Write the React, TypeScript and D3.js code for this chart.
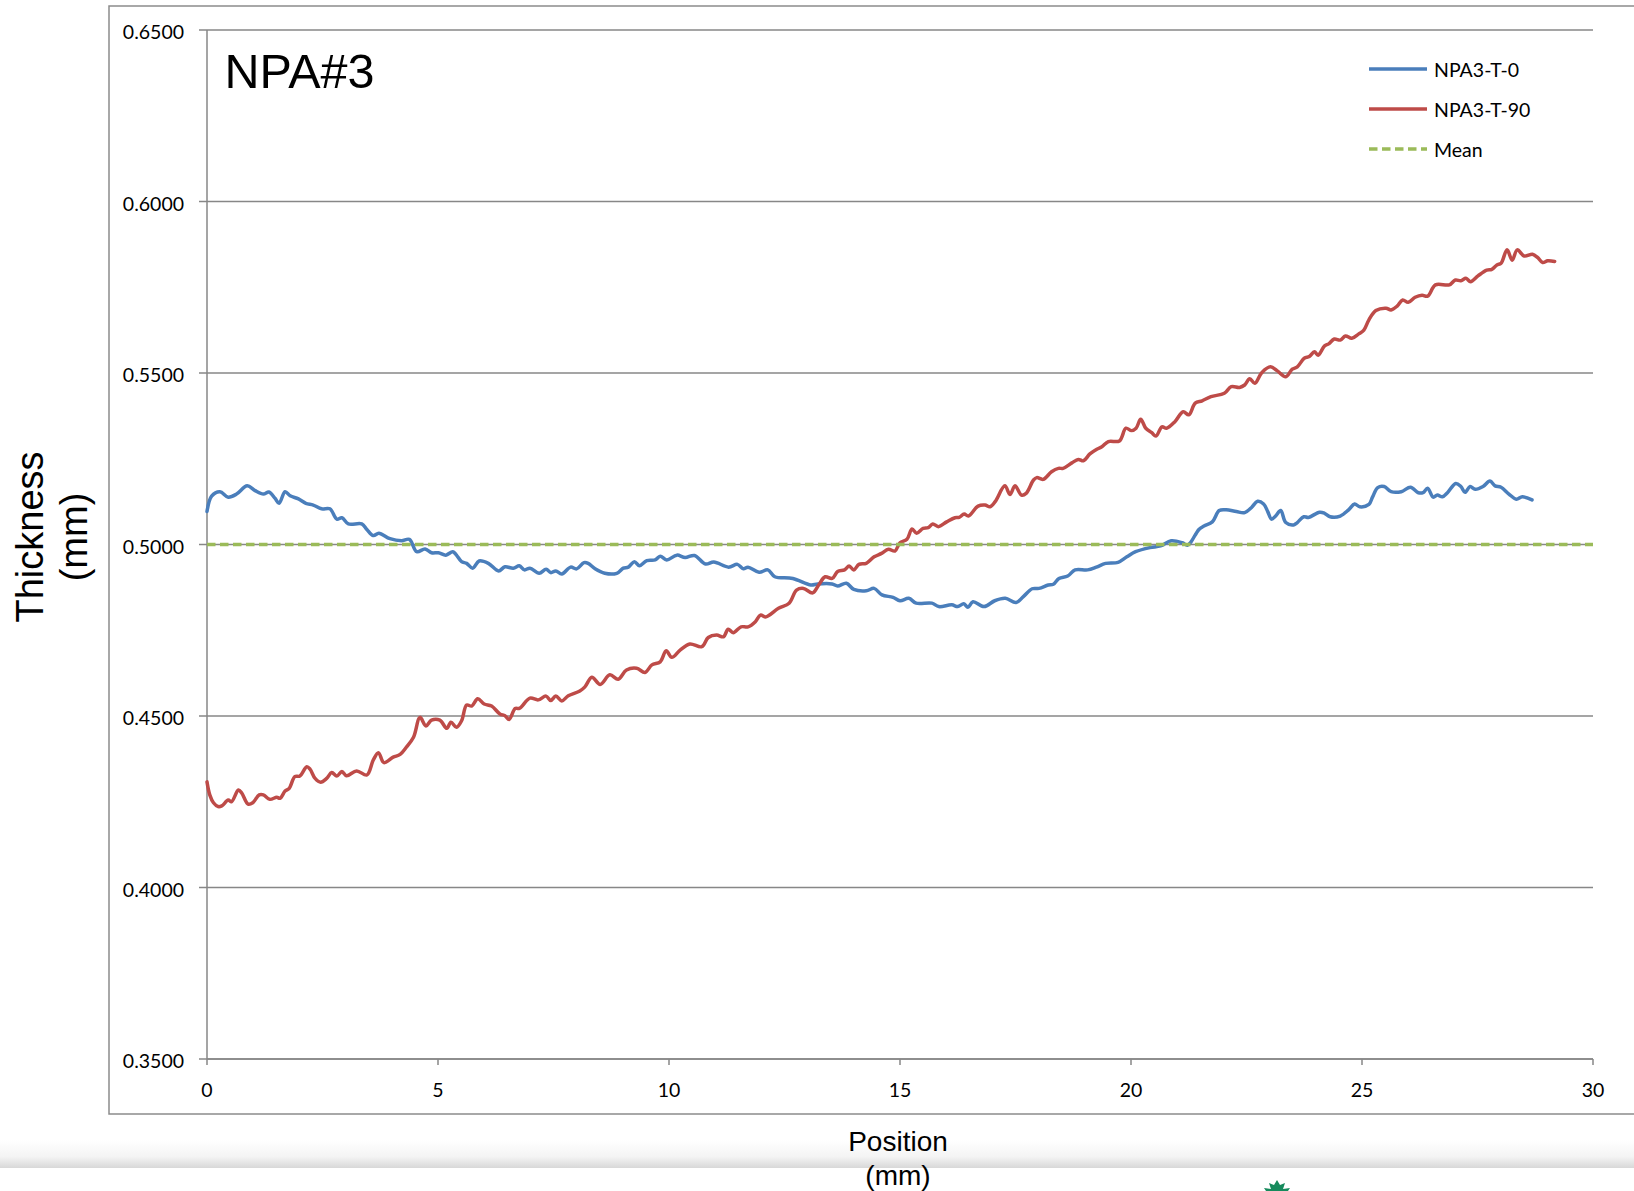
import React from "react";
import * as d3 from "d3";

// Thickness profiles: [position (mm), thickness (mm)]
const t0Profile: [number, number][] = [
  [0.0, 0.5096], [0.1, 0.5141], [0.28, 0.5154], [0.46, 0.5138], [0.64, 0.5147], [0.87, 0.5171], [1.04, 0.5157],
  [1.22, 0.5147], [1.34, 0.5153], [1.47, 0.5135], [1.56, 0.512], [1.69, 0.5154], [1.8, 0.5142], [1.98, 0.5133],
  [2.14, 0.512], [2.3, 0.5115], [2.48, 0.5104], [2.66, 0.5104], [2.81, 0.5074], [2.92, 0.5078], [3.06, 0.506],
  [3.35, 0.506], [3.46, 0.5044], [3.6, 0.5026], [3.72, 0.5033], [3.96, 0.5017], [4.21, 0.5011], [4.38, 0.5015],
  [4.54, 0.4979], [4.72, 0.4987], [4.86, 0.4976], [5.01, 0.4976], [5.17, 0.4969], [5.32, 0.4979], [5.4, 0.4969],
  [5.51, 0.495], [5.62, 0.4945], [5.75, 0.4931], [5.89, 0.4952], [6.09, 0.4945], [6.31, 0.4923], [6.45, 0.4935],
  [6.63, 0.4931], [6.76, 0.4938], [6.87, 0.4926], [6.99, 0.4931], [7.19, 0.4916], [7.34, 0.4928], [7.44, 0.4918],
  [7.55, 0.4923], [7.68, 0.4914], [7.87, 0.4934], [8.0, 0.4929], [8.16, 0.4947], [8.25, 0.4945], [8.4, 0.4929],
  [8.61, 0.4916], [8.87, 0.4916], [9.01, 0.4931], [9.12, 0.4934], [9.25, 0.495], [9.36, 0.4938], [9.52, 0.4953],
  [9.7, 0.4955], [9.81, 0.4966], [9.95, 0.4955], [10.17, 0.4969], [10.35, 0.4962], [10.55, 0.4968], [10.79, 0.4943],
  [10.97, 0.4949], [11.29, 0.4934], [11.48, 0.4942], [11.61, 0.4929], [11.71, 0.4934], [11.95, 0.4919], [12.14, 0.4926],
  [12.29, 0.4906], [12.68, 0.4901], [13.07, 0.4882], [13.22, 0.4885], [13.53, 0.4885], [13.65, 0.4879], [13.84, 0.4887],
  [14.0, 0.4869], [14.27, 0.4865], [14.44, 0.4872], [14.61, 0.4853], [14.85, 0.4846], [15.0, 0.4836], [15.19, 0.4843],
  [15.35, 0.4829], [15.69, 0.4829], [15.84, 0.4819], [16.12, 0.4824], [16.25, 0.4819], [16.38, 0.4827], [16.47, 0.4817],
  [16.58, 0.4833], [16.82, 0.4819], [17.05, 0.4836], [17.28, 0.4843], [17.51, 0.4831], [17.67, 0.4848], [17.86, 0.4871],
  [18.01, 0.4872], [18.21, 0.4882], [18.32, 0.4884], [18.44, 0.4901], [18.63, 0.4908], [18.79, 0.4926], [19.06, 0.4926],
  [19.25, 0.4934], [19.45, 0.4945], [19.72, 0.4948], [19.91, 0.4964], [20.1, 0.4979], [20.41, 0.4991], [20.64, 0.4996],
  [20.87, 0.5011], [21.11, 0.5005], [21.22, 0.4998], [21.3, 0.5008], [21.47, 0.5044], [21.58, 0.5054], [21.76, 0.5066],
  [21.91, 0.5099], [22.06, 0.5101], [22.28, 0.5096], [22.46, 0.5093], [22.61, 0.5108], [22.74, 0.5126], [22.87, 0.5118],
  [22.96, 0.5096], [23.04, 0.5074], [23.13, 0.5083], [23.24, 0.5099], [23.35, 0.5064], [23.52, 0.5057], [23.6, 0.5064],
  [23.74, 0.5081], [23.84, 0.5079], [24.08, 0.5094], [24.19, 0.5091], [24.31, 0.5081], [24.53, 0.5083], [24.71, 0.5101],
  [24.84, 0.5118], [24.95, 0.511], [25.15, 0.5117], [25.23, 0.5139], [25.34, 0.5166], [25.48, 0.5169], [25.63, 0.5154],
  [25.85, 0.5154], [26.05, 0.5167], [26.22, 0.5151], [26.32, 0.5151], [26.42, 0.5164], [26.54, 0.5138], [26.63, 0.5144],
  [26.74, 0.5139], [26.85, 0.5151], [27.03, 0.5178], [27.14, 0.5169], [27.23, 0.5152], [27.34, 0.5169], [27.45, 0.5161],
  [27.62, 0.5169], [27.77, 0.5185], [27.88, 0.5171], [28.01, 0.5167], [28.18, 0.5147], [28.34, 0.5132], [28.47, 0.5139],
  [28.68, 0.513],
];

const t90Profile: [number, number][] = [
  [0.0, 0.4308], [0.06, 0.427], [0.14, 0.4247], [0.24, 0.4236], [0.32, 0.4238], [0.46, 0.4255], [0.53, 0.425],
  [0.68, 0.4284], [0.75, 0.4276], [0.89, 0.4243], [0.99, 0.4247], [1.13, 0.427], [1.22, 0.427], [1.36, 0.4257],
  [1.51, 0.4263], [1.58, 0.426], [1.69, 0.4281], [1.78, 0.4289], [1.9, 0.4323], [2.01, 0.4325], [2.16, 0.4352],
  [2.23, 0.4345], [2.34, 0.4318], [2.46, 0.4307], [2.59, 0.4318], [2.7, 0.4335], [2.81, 0.4325], [2.92, 0.4338],
  [3.02, 0.4326], [3.24, 0.434], [3.46, 0.4328], [3.6, 0.4372], [3.71, 0.4393], [3.83, 0.4364], [4.03, 0.438],
  [4.18, 0.4388], [4.32, 0.441], [4.47, 0.4438], [4.61, 0.4496], [4.74, 0.4471], [4.86, 0.4488], [5.04, 0.4488],
  [5.19, 0.4464], [5.28, 0.4482], [5.4, 0.4467], [5.51, 0.4486], [5.62, 0.4532], [5.73, 0.4529], [5.86, 0.455],
  [6.0, 0.4535], [6.16, 0.4529], [6.34, 0.4506], [6.45, 0.4501], [6.54, 0.449], [6.67, 0.4522], [6.76, 0.4522],
  [6.99, 0.4552], [7.17, 0.4547], [7.34, 0.4558], [7.44, 0.4545], [7.55, 0.4558], [7.68, 0.4544], [7.82, 0.4559],
  [8.07, 0.4573], [8.18, 0.4585], [8.33, 0.4613], [8.51, 0.4592], [8.72, 0.462], [8.9, 0.4607], [9.08, 0.4634],
  [9.3, 0.4639], [9.48, 0.4627], [9.63, 0.4649], [9.81, 0.4658], [9.94, 0.469], [10.06, 0.4671], [10.24, 0.4692],
  [10.45, 0.471], [10.71, 0.4702], [10.85, 0.4729], [11.03, 0.4736], [11.18, 0.4731], [11.28, 0.4753], [11.39, 0.4743],
  [11.56, 0.476], [11.71, 0.476], [11.87, 0.4775], [11.98, 0.4794], [12.1, 0.4789], [12.37, 0.4814], [12.6, 0.4829],
  [12.76, 0.4867], [12.91, 0.4872], [13.11, 0.4859], [13.24, 0.4882], [13.38, 0.4906], [13.53, 0.4901], [13.65, 0.4921],
  [13.8, 0.4926], [13.9, 0.4937], [14.0, 0.4926], [14.11, 0.4942], [14.27, 0.4945], [14.44, 0.4964], [14.6, 0.4974],
  [14.75, 0.4986], [14.89, 0.4981], [15.0, 0.5005], [15.15, 0.5015], [15.26, 0.5045], [15.36, 0.5033], [15.5, 0.5047],
  [15.61, 0.5049], [15.71, 0.506], [15.83, 0.5052], [16.01, 0.5066], [16.19, 0.5078], [16.28, 0.5079], [16.39, 0.5089],
  [16.48, 0.5083], [16.69, 0.5112], [16.84, 0.5115], [16.95, 0.511], [17.06, 0.5125], [17.27, 0.5171], [17.38, 0.5146],
  [17.49, 0.5171], [17.63, 0.5144], [17.73, 0.5149], [17.89, 0.5188], [17.96, 0.5195], [18.1, 0.519], [18.28, 0.5212],
  [18.43, 0.5222], [18.53, 0.5222], [18.72, 0.5238], [18.86, 0.5248], [18.97, 0.5244], [19.11, 0.5264], [19.26, 0.5278],
  [19.37, 0.5285], [19.51, 0.53], [19.75, 0.5302], [19.89, 0.5339], [20.01, 0.5332], [20.11, 0.5339], [20.21, 0.5365],
  [20.32, 0.5339], [20.45, 0.5326], [20.54, 0.5316], [20.67, 0.5343], [20.77, 0.5339], [20.95, 0.5358], [21.13, 0.5387],
  [21.25, 0.5378], [21.39, 0.5412], [21.54, 0.5419], [21.73, 0.5431], [22.02, 0.5441], [22.17, 0.546], [22.35, 0.5458],
  [22.46, 0.5465], [22.57, 0.5483], [22.68, 0.547], [22.83, 0.5501], [23.02, 0.5518], [23.16, 0.5507], [23.35, 0.5489],
  [23.49, 0.5511], [23.6, 0.5518], [23.75, 0.5543], [23.86, 0.5548], [23.97, 0.5562], [24.05, 0.5552], [24.19, 0.5579],
  [24.28, 0.5585], [24.4, 0.5599], [24.53, 0.5596], [24.64, 0.5608], [24.78, 0.5601], [24.93, 0.5614], [25.04, 0.5625],
  [25.15, 0.5655], [25.3, 0.5682], [25.52, 0.5689], [25.63, 0.5684], [25.76, 0.5695], [25.88, 0.5713], [26.0, 0.5706],
  [26.15, 0.5721], [26.3, 0.5727], [26.42, 0.5724], [26.59, 0.5757], [26.89, 0.5757], [27.02, 0.5771], [27.14, 0.5769],
  [27.25, 0.5776], [27.35, 0.5766], [27.51, 0.5783], [27.7, 0.58], [27.81, 0.5802], [27.92, 0.5815], [28.01, 0.582],
  [28.14, 0.5859], [28.25, 0.5829], [28.36, 0.5859], [28.51, 0.5841], [28.69, 0.5846], [28.8, 0.5837], [28.91, 0.5822],
  [29.02, 0.5827], [29.17, 0.5825],
];

const meanThickness = 0.5;
const xDomain: [number, number] = [0, 30];
const yDomain: [number, number] = [0.35, 0.65];
const xTicks = [0, 5, 10, 15, 20, 25, 30];
const yTicks = [0.35, 0.4, 0.45, 0.5, 0.55, 0.6, 0.65];
const seriesNames = ["NPA3-T-0", "NPA3-T-90", "Mean"];
const seriesColors = ["#4a7ebb", "#be4b48", "#9bbb59"];
const chartTitle = "NPA#3";
const yTitle = ["Thickness", "(mm)"];
const xTitle = ["Position", "(mm)"];

const W = 1634;
const H = 1191;
const plot = { left: 207, right: 1593, top: 30, bottom: 1059 };
const GRID = "#878787";
const LABEL_FONT = "Lato, 'Open Sans', sans-serif";
const TITLE_FONT = "'Liberation Sans', Arial, sans-serif";

export default function App() {
  const x = d3.scaleLinear().domain(xDomain).range([plot.left, plot.right]);
  const y = d3.scaleLinear().domain(yDomain).range([plot.bottom, plot.top]);
  const line = d3
    .line<[number, number]>()
    .x((d) => x(d[0]))
    .y((d) => y(d[1]))
    .curve(d3.curveCatmullRom.alpha(0.5));
  const fmt = d3.format(".4f");

  const legendX = 1369;
  const legendY = [69, 109, 149];

  return (
    <svg
      width={W}
      height={H}
      viewBox={`0 0 ${W} ${H}`}
      style={{ position: "absolute", left: 0, top: 0, background: "#fff" }}
    >
      <defs>
        <linearGradient id="pageEdge" x1="0" y1="0" x2="0" y2="1">
          <stop offset="0" stopColor="#ffffff" />
          <stop offset="0.6" stopColor="#f4f4f4" />
          <stop offset="1" stopColor="#d8d8d8" />
        </linearGradient>
      </defs>
      <rect x={0} y={0} width={W} height={H} fill="#fff" />

      {/* page edge shading below the chart */}
      <rect x={0} y={1140} width={W} height={28} fill="url(#pageEdge)" />

      {/* chart frame */}
      <path d={`M${W},6 H109 V1114 H${W}`} fill="none" stroke="#8c8c8c" strokeWidth={1.5} />

      {/* horizontal gridlines with outside tick marks */}
      {yTicks.map((t) => (
        <line key={`g${t}`} x1={plot.left - 8} x2={plot.right} y1={y(t)} y2={y(t)} stroke={GRID} strokeWidth={1.5} />
      ))}
      {/* axes */}
      <line x1={plot.left} x2={plot.left} y1={plot.top} y2={plot.bottom} stroke={GRID} strokeWidth={1.5} />
      <line x1={plot.left} x2={plot.right} y1={plot.bottom} y2={plot.bottom} stroke={GRID} strokeWidth={1.5} />
      {xTicks.map((t) => (
        <line key={`xt${t}`} x1={x(t)} x2={x(t)} y1={plot.bottom} y2={plot.bottom + 6} stroke={GRID} strokeWidth={1.5} />
      ))}

      {/* tick labels */}
      {yTicks.map((t) => (
        <text key={`yl${t}`} x={plot.left - 23} y={y(t) + 9} textAnchor="end" fontFamily={LABEL_FONT} fontSize={19.5} fill="#000">
          {fmt(t)}
        </text>
      ))}
      {xTicks.map((t) => (
        <text key={`xl${t}`} x={x(t)} y={plot.bottom + 38} textAnchor="middle" fontFamily={LABEL_FONT} fontSize={19.5} fill="#000">
          {t}
        </text>
      ))}

      {/* series */}
      <path d={line(t0Profile) ?? ""} fill="none" stroke={seriesColors[0]} strokeWidth={3.5} strokeLinejoin="round" strokeLinecap="round" />
      <path d={line(t90Profile) ?? ""} fill="none" stroke={seriesColors[1]} strokeWidth={3.5} strokeLinejoin="round" strokeLinecap="round" />
      <line
        x1={x(xDomain[0])}
        x2={x(xDomain[1])}
        y1={y(meanThickness)}
        y2={y(meanThickness)}
        stroke={seriesColors[2]}
        strokeWidth={3.4}
        strokeDasharray="8.5 4.5"
      />

      {/* legend */}
      {seriesNames.map((name, i) => (
        <g key={name}>
          <line
            x1={legendX}
            x2={legendX + 58}
            y1={legendY[i]}
            y2={legendY[i]}
            stroke={seriesColors[i]}
            strokeWidth={3.4}
            strokeDasharray={i === 2 ? "8.5 4.5" : undefined}
          />
          <text x={legendX + 65} y={legendY[i] + 7.8} fontFamily={LABEL_FONT} fontSize={19.5} fill="#000">
            {name}
          </text>
        </g>
      ))}

      {/* chart title */}
      <text x={224.5} y={87.5} fontFamily={TITLE_FONT} fontSize={48.5} fill="#000">
        {chartTitle}
      </text>

      {/* axis titles */}
      <text transform="translate(43,537) rotate(-90)" textAnchor="middle" fontFamily={TITLE_FONT} fontSize={38} fill="#000">
        {yTitle[0]}
      </text>
      <text transform="translate(87,537) rotate(-90)" textAnchor="middle" fontFamily={TITLE_FONT} fontSize={38} fill="#000">
        {yTitle[1]}
      </text>
      <text x={(plot.left + plot.right) / 2 - 2} y={1151} textAnchor="middle" fontFamily={TITLE_FONT} fontSize={28} fill="#000">
        {xTitle[0]}
      </text>
      <text x={(plot.left + plot.right) / 2 - 2} y={1185} textAnchor="middle" fontFamily={TITLE_FONT} fontSize={28} fill="#000">
        {xTitle[1]}
      </text>

      {/* small leaf emblem at the page foot */}
      <path
        d="M1277,1180 L1280,1185 L1285,1183 L1283,1189 L1290,1188 L1288,1191 L1266,1191 L1264,1188 L1271,1189 L1269,1183 L1274,1185 Z"
        fill="#168a5c"
      />
    </svg>
  );
}
